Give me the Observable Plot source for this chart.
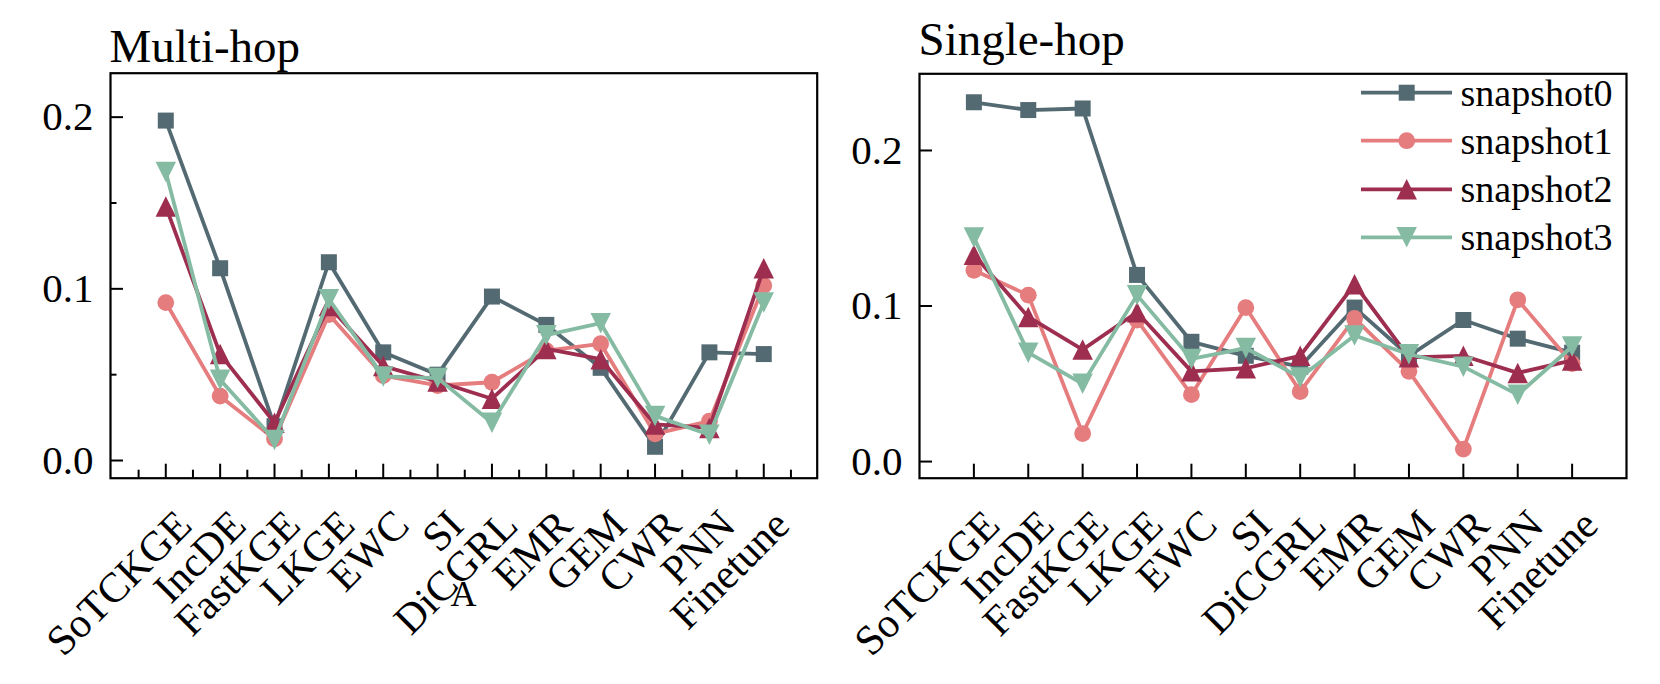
<!DOCTYPE html>
<html><head><meta charset="utf-8">
<script src="https://cdn.jsdelivr.net/npm/d3@7"></script>
<script src="https://cdn.jsdelivr.net/npm/@observablehq/plot@0.6"></script>
<style>
html,body{margin:0;padding:0;background:#fff;}
#root{position:relative;width:1660px;height:684px;overflow:hidden;background:#fff;}
#root svg{position:absolute;top:0;overflow:visible;}
</style></head><body><div id="root"></div>
<script>
const methods = ["SoTCKGE","IncDE","FastKGE","LKGE","EWC","SI","DiCGRL","EMR","GEM","CWR","PNN","Finetune"];
const seriesNames = ["snapshot0","snapshot1","snapshot2","snapshot3"];
const colors = ["#546A72","#E57C7E","#9E2E50","#86BBA3"];

// Multi-hop panel values
const multi0 = [0.198,0.112,0.020,0.1155,0.063,0.050,0.0955,0.079,0.054,0.008,0.063,0.062];
const multi1 = [0.092,0.0375,0.0126,0.085,0.0495,0.0437,0.0456,0.064,0.068,0.0155,0.0229,0.102];
const multi2 = [0.148,0.062,0.022,0.090,0.055,0.046,0.036,0.065,0.059,0.021,0.019,0.112];
const multi3 = [0.168,0.047,0.012,0.094,0.049,0.048,0.022,0.073,0.080,0.026,0.015,0.092];

// Single-hop panel values
const single0 = [0.231,0.226,0.227,0.120,0.077,0.068,0.061,0.099,0.068,0.091,0.079,0.070];
const single1 = [0.123,0.107,0.018,0.091,0.043,0.099,0.045,0.092,0.058,0.008,0.104,0.063];
const single2 = [0.133,0.093,0.072,0.096,0.058,0.060,0.068,0.114,0.067,0.068,0.057,0.065];
const single3 = [0.144,0.070,0.050,0.107,0.066,0.073,0.054,0.081,0.069,0.061,0.043,0.074];

const yTickValues = [0, 0.1, 0.2];
const yMinorMulti = [0.05, 0.15];
const strayGlyph = [{i: 6, text: "A"}];

const FONT = '"Liberation Serif","Times New Roman",serif';
const LINE_W = 3.8;

const triUp = {draw(ctx, size){ const h = Math.sqrt(size)/2; ctx.moveTo(0,-h); ctx.lineTo(h,h); ctx.lineTo(-h,h); ctx.closePath(); }};
const triDown = {draw(ctx, size){ const h = Math.sqrt(size)/2; ctx.moveTo(0,h); ctx.lineTo(h,-h); ctx.lineTo(-h,-h); ctx.closePath(); }};
const symbols = ["square","circle",triUp,triDown];
const radii = [16/Math.sqrt(Math.PI), 8.4, 20.5/Math.sqrt(Math.PI), 20.5/Math.sqrt(Math.PI)];

function panel({title, series, xDomain, yDomain, mL, mR, mT, mB, titleDy, minor, extra = []}) {
  const W = 830, H = 684;
  const fw = W - mL - mR, fh = H - mT - mB;
  const marks = [];
  series.forEach((vals, k) => {
    const data = vals.map((v, i) => ({i, v}));
    marks.push(Plot.line(data, {x: "i", y: "v", stroke: colors[k], strokeWidth: LINE_W}));
    marks.push(Plot.dot(data, {x: "i", y: "v", fill: colors[k], stroke: "none", symbol: symbols[k], r: radii[k]}));
  });
  const idx = d3.range(methods.length);
  marks.push(Plot.tickX(idx, {x: d => d, stroke: "black", strokeWidth: 2, insetTop: fh - 14}));
  marks.push(Plot.tickY(yTickValues, {y: d => d, stroke: "black", strokeWidth: 2, insetRight: fw - 13}));
  if (minor) {
    const half = d3.range(-0.5, methods.length, 1);
    marks.push(Plot.tickX(half, {x: d => d, stroke: "black", strokeWidth: 2, insetTop: fh - 8}));
    marks.push(Plot.tickY(yMinorMulti, {y: d => d, stroke: "black", strokeWidth: 2, insetRight: fw - 6.5}));
  }
  marks.push(Plot.frame({stroke: "black", strokeWidth: 2.2}));
  marks.push(Plot.text(methods, {x: (d, i) => i, text: d => d, frameAnchor: "bottom", rotate: -45,
    textAnchor: "end", lineAnchor: "bottom", dx: 28, dy: 49.3, fontSize: 42, fontFamily: FONT, fill: "black"}));
  marks.push(Plot.text(yTickValues, {y: d => d, text: d => d3.format(".1f")(d), frameAnchor: "left",
    textAnchor: "end", dx: -17, fontSize: 41, fontFamily: FONT, fill: "black"}));
  marks.push(Plot.text([title], {frameAnchor: "top-left", text: d => d, textAnchor: "start", lineAnchor: "bottom",
    dx: -1, dy: titleDy, fontSize: 47, fontFamily: FONT, fill: "black"}));
  marks.push(...extra);
  return Plot.plot({
    width: W, height: H, marginLeft: mL, marginRight: mR, marginTop: mT, marginBottom: mB,
    x: {type: "linear", domain: xDomain, axis: null},
    y: {type: "linear", domain: yDomain, axis: null},
    style: {background: "transparent", fontFamily: FONT, overflow: "visible"},
    marks
  });
}

const root = document.getElementById("root");

const left = panel({
  title: "Multi-hop", series: [multi0, multi1, multi2, multi3],
  xDomain: [-1.017, 11.983], yDomain: [-0.0103, 0.2256],
  mL: 110, mR: 13.3, mT: 72.7, mB: 206.3, titleDy: -11, minor: true,
  extra: [Plot.text(strayGlyph, {x: "i", text: "text", frameAnchor: "bottom", dx: -28.5, dy: 127.3,
    lineAnchor: "bottom", textAnchor: "middle", fontSize: 36, fontFamily: FONT, fill: "black"})]
});
left.style.left = "0px";
root.appendChild(left);

const right = panel({
  title: "Single-hop", series: [single0, single1, single2, single3],
  xDomain: [-1, 12], yDomain: [-0.0107, 0.2493],
  mL: 89, mR: 34, mT: 73.3, mB: 206.3, titleDy: -19.3, minor: false
});
right.style.left = "830px";
root.appendChild(right);

// Legend (upper right of the Single-hop panel)
const leg = d3.select(root).append("svg")
  .attr("width", 1660).attr("height", 684)
  .style("left", "0px").style("pointer-events", "none");
const rowY = [92.7, 140.7, 189.3, 237.3];
const symPaths = [
  d3.symbol(d3.symbolSquare, 256)(),
  d3.symbol(d3.symbolCircle, Math.PI * 8.4 * 8.4)(),
  d3.symbol(triUp, 20.5 * 20.5)(),
  d3.symbol(triDown, 20.5 * 20.5)()
];
seriesNames.forEach((name, k) => {
  const g = leg.append("g").attr("transform", `translate(0,${rowY[k]})`);
  g.append("line").attr("x1", 1361).attr("x2", 1452).attr("y1", 0).attr("y2", 0)
    .attr("stroke", colors[k]).attr("stroke-width", LINE_W);
  g.append("path").attr("d", symPaths[k]).attr("transform", "translate(1406.7,0)").attr("fill", colors[k]);
  g.append("text").attr("x", 1460.5).attr("y", 12.8).attr("font-family", FONT).attr("font-size", 38)
    .attr("fill", "black").text(name);
});
</script></body></html>
